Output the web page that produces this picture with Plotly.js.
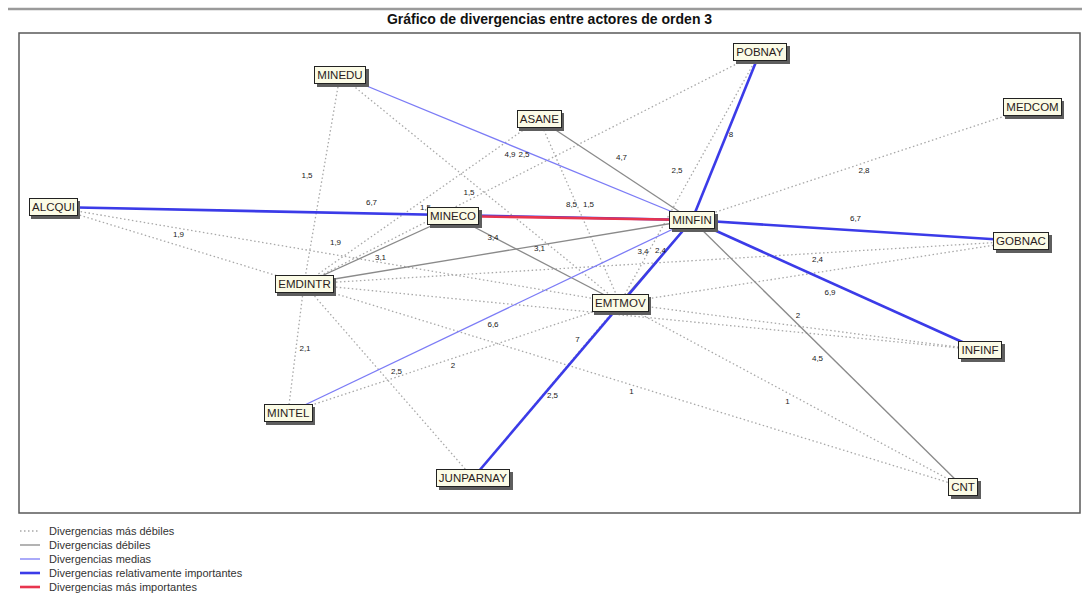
<!DOCTYPE html>
<html>
<head>
<meta charset="utf-8">
<script src="https://cdn.plot.ly/plotly-3.0.1.min.js"></script>
<style>html,body{margin:0;padding:0;background:#fff;}#chart{width:1082px;height:602px;}</style>
</head>
<body>
<div id="chart"></div>
<script>
// ---------- DATA ----------
const chartTitle = "Gráfico de divergencias entre actores de orden 3";
const levelNames = [
  "Divergencias más débiles",
  "Divergencias débiles",
  "Divergencias medias",
  "Divergencias relativamente importantes",
  "Divergencias más importantes"
];
const nodeNames = ["POBNAY","MINEDU","ASANE","MEDCOM","ALCQUI","MINECO","MINFIN","GOBNAC","EMDINTR","EMTMOV","INFINF","MINTEL","JUNPARNAY","CNT"];
const nodeX =     [741,     321,     520,    1013,    34,      434,     673,     1002,    285,      601,     961,     269,     454,        944];
const nodeY =     [461,     438,     394,    406,     306,     297,     293,     272,     229,      210,     163,     100,     35,         26];

const edgeFrom = ["MEDCOM","MINEDU","EMDINTR","MINEDU","ASANE","ASANE","POBNAY","POBNAY","ALCQUI","ALCQUI","EMDINTR","GOBNAC","EMTMOV","EMDINTR","MINTEL","EMDINTR","EMDINTR","EMTMOV","JUNPARNAY",
                  "ASANE","MINFIN","EMDINTR","EMDINTR","MINECO","EMTMOV",
                  "MINEDU","MINTEL",
                  "ALCQUI","POBNAY","MINFIN","MINFIN","JUNPARNAY",
                  "MINECO"];
const edgeTo =   ["MINFIN","EMDINTR","MINTEL","EMTMOV","EMDINTR","EMTMOV","EMDINTR","EMTMOV","EMDINTR","EMTMOV","GOBNAC","EMTMOV","INFINF","INFINF","EMTMOV","JUNPARNAY","CNT","CNT","EMTMOV",
                  "MINFIN","CNT","MINECO","MINFIN","EMTMOV","MINFIN",
                  "MINFIN","MINFIN",
                  "MINFIN","MINFIN","GOBNAC","INFINF","MINFIN",
                  "MINFIN"];
// null = value hidden in the reference (label covered by a node box)
const edgeValue = [2.8,1.5,2.1,1.5,1.5,1.5,2.5,2.5,1.9,1.9,2.4,2.4,2,null,2,2.5,1,1,2.5,
                   4.7,4.5,3.1,3.4,3.1,3.4,
                   4.9,6.6,
                   6.7,8,6.7,6.9,7,
                   8.5];
const edgeLevel = [0,0,0,0,0,0,0,0,0,0,0,0,0,0,0,0,0,0,0,
                   1,1,1,1,1,1,
                   2,2,
                   3,3,3,3,3,
                   4];

// ---------- STYLE / PLACEMENT ----------
const levelStyle = [
  {color:"#a8a8a8", width:1.3, dash:"1.5px,2.5px"},
  {color:"#8a8a8a", width:1.3, dash:"solid"},
  {color:"#7c7cf6", width:1.3, dash:"solid"},
  {color:"#3b3be8", width:2.6, dash:"solid"},
  {color:"#e8344e", width:2.6, dash:"solid"}
];
// label nudges from edge midpoint (px; positive dy = up)
const labelDx = [2,-15,9,-11,4,9,-8,-13,0,-1,-2,-3,-2,0,-1,8,-2,-4,6,
                 6,-10,2,-5,3,-13,
                 -6,3,
                 -1,5,-1,-6,-5,
                 -1];
const labelDy = [-7,4,0,-4,-6,6,13,7,11,12,12,12,11,12,-8,9,-6,-7,-5,
                 12,-5,-8,14,11,10,
                 -7,-8,
                 11,1,12,-8,9,
                 13];

const FONT = "Liberation Sans, Arial, Helvetica, sans-serif";
const NODE_FS = 11.5;
const idx = {};
nodeNames.forEach((n,i)=>idx[n]=i);
const fmt = v => String(v).replace(".", ",");

const traces = [];
levelStyle.forEach((st, lv) => {
  const xs = [], ys = [];
  edgeFrom.forEach((a, k) => {
    if (edgeLevel[k] !== lv) return;
    const i = idx[a], j = idx[edgeTo[k]];
    xs.push(nodeX[i], nodeX[j], null);
    ys.push(nodeY[i], nodeY[j], null);
  });
  traces.push({
    type:"scatter", mode:"lines", x:xs, y:ys, name:levelNames[lv],
    line:{color:st.color, width:st.width, dash:st.dash},
    hoverinfo:"skip", showlegend:false
  });
});

// edge value labels
const lx = [], ly = [], lt = [];
edgeFrom.forEach((a, k) => {
  if (edgeValue[k] === null) return;
  const i = idx[a], j = idx[edgeTo[k]];
  lx.push((nodeX[i] + nodeX[j]) / 2 + labelDx[k]);
  ly.push((nodeY[i] + nodeY[j]) / 2 + labelDy[k]);
  lt.push(fmt(edgeValue[k]));
});
traces.push({
  type:"scatter", mode:"text", x:lx, y:ly, text:lt, textposition:"middle center",
  textfont:{family:FONT, size:8, color:"#1a1a1a"}, hoverinfo:"skip", showlegend:false, cliponaxis:false
});

// measure node label widths so the shadow box can be an empty box of equal size
const ctx = document.createElement("canvas").getContext("2d");
ctx.font = NODE_FS + "px 'Liberation Sans', Arial, sans-serif";
const boxW = nodeNames.map(n => Math.ceil(ctx.measureText(n).width) + 2);
const BOX_H = 14;

// node boxes (shadow + box)
const annotations = [];
nodeNames.forEach((n, i) => {
  annotations.push({
    x:nodeX[i], y:nodeY[i], xref:"x", yref:"y", text:" ", showarrow:false,
    width:boxW[i], height:BOX_H,
    font:{family:FONT, size:NODE_FS, color:"#5e5e5e"}, bgcolor:"#5e5e5e",
    bordercolor:"#5e5e5e", borderwidth:1, borderpad:1, xshift:2.5, yshift:-2.5
  });
});
nodeNames.forEach((n, i) => {
  annotations.push({
    x:nodeX[i], y:nodeY[i], xref:"x", yref:"y", text:n, showarrow:false,
    width:boxW[i], height:BOX_H,
    font:{family:FONT, size:NODE_FS, color:"#2a1c1c"}, bgcolor:"#fbfbe6",
    bordercolor:"#222", borderwidth:1, borderpad:1
  });
});

// manual legend
const W = 1061, H = 480, L = 19, T = 33;
const px2x = p => (p - L) / W;
const py2y = p => (T + H - p) / H;
const shapes = [
  {type:"rect", xref:"paper", yref:"paper", x0:0, x1:1, y0:0, y1:1, line:{color:"#5a5a5a", width:1.5}, layer:"above"},
  {type:"line", xref:"paper", yref:"paper", x0:px2x(8), x1:px2x(1082), y0:py2y(9), y1:py2y(9), line:{color:"#9a9a9a", width:2.5}}
];
levelNames.forEach((name, lv) => {
  const py = 531 + lv * 14;
  const st = levelStyle[lv];
  shapes.push({type:"line", xref:"paper", yref:"paper", x0:px2x(20), x1:px2x(40), y0:py2y(py), y1:py2y(py),
    line:{color:st.color, width:st.width, dash:st.dash}});
  annotations.push({xref:"paper", yref:"paper", x:px2x(47), y:py2y(py), xanchor:"left", yanchor:"middle",
    text:name, showarrow:false, font:{family:FONT, size:11, color:"#333"}});
});

const layout = {
  width:1082, height:602,
  margin:{l:L, r:1082 - L - W, t:T, b:602 - T - H, pad:0},
  paper_bgcolor:"#fff", plot_bgcolor:"#fff",
  title:{text:"<b>" + chartTitle + "</b>", font:{family:FONT, size:14, color:"#111"},
         x:0.5, xref:"paper", xanchor:"center", y:1 - 19/602, yref:"container", yanchor:"middle"},
  xaxis:{range:[0, W], visible:false, fixedrange:true},
  yaxis:{range:[0, H], visible:false, fixedrange:true},
  showlegend:false,
  shapes:shapes,
  annotations:annotations
};

Plotly.newPlot("chart", traces, layout, {staticPlot:true, displayModeBar:false});
</script>
</body>
</html>
